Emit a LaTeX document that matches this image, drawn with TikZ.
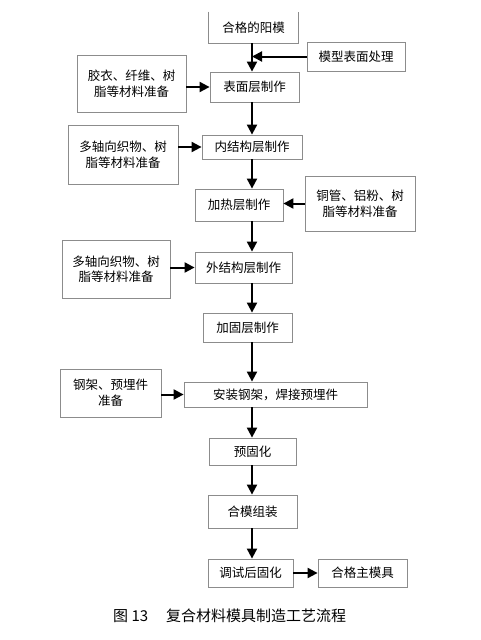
\documentclass[tikz,border=0pt]{standalone}
\usepackage{fontspec}
\setmainfont{Noto Sans CJK SC}
\usetikzlibrary{arrows.meta}
\begin{document}
\begin{tikzpicture}[x=1pt,y=-1pt,
  box/.style={draw=black!45,line width=0.8pt,rectangle,inner sep=0pt,align=center,font=\fontsize{12.5}{15.5}\selectfont},
  arr/.style={line width=2pt,-{Triangle[length=10pt,width=10pt]}}]
\useasboundingbox (0,0) rectangle (480,640);
\coordinate (spine) at (252,0);
\node[box,draw=none,minimum width=89pt,minimum height=31pt] (yang) at (253.5,27.5) {合格的阳模};
\draw[black!45,line width=0.8pt] (yang.north west)--(yang.south west)--(yang.south east)--(yang.north east);
\node[box,minimum width=98pt,minimum height=29pt] (mx) at (356,56.5) {模型表面处理};
\node[box,minimum width=109pt,minimum height=57pt] (jy) at (131.5,83.5) {胶衣、纤维、树\\脂等材料准备};
\node[box,minimum width=89pt,minimum height=30pt] (bm) at (254.5,87) {表面层制作};
\node[box,minimum width=110pt,minimum height=59pt] (dz1) at (123,154.5) {多轴向织物、树\\脂等材料准备};
\node[box,minimum width=100pt,minimum height=24pt] (nj) at (252,147) {内结构层制作};
\node[box,minimum width=88pt,minimum height=32pt] (jr) at (239,205) {加热层制作};
\node[box,minimum width=110pt,minimum height=55pt] (tg) at (360,203.5) {铜管、铝粉、树\\脂等材料准备};
\node[box,minimum width=108pt,minimum height=58pt] (dz2) at (116,269) {多轴向织物、树\\脂等材料准备};
\node[box,minimum width=97pt,minimum height=31pt] (wj) at (243.5,267.5) {外结构层制作};
\node[box,minimum width=89pt,minimum height=29pt] (jg) at (247.5,327.5) {加固层制作};
\node[box,minimum width=101pt,minimum height=48pt] (gj) at (110.5,393) {钢架、预埋件\\准备};
\node[box,minimum width=183pt,minimum height=25pt] (az) at (275.5,394.5) {安装钢架，焊接预埋件};
\node[box,minimum width=87pt,minimum height=27pt] (yg) at (252.5,451.5) {预固化};
\node[box,minimum width=89pt,minimum height=33pt] (hm) at (252.5,511.5) {合模组装};
\node[box,minimum width=85pt,minimum height=28pt] (ts) at (250.5,573) {调试后固化};
\node[box,minimum width=89pt,minimum height=28pt] (zm) at (362.5,573) {合格主模具};
\node[font=\fontsize{15}{18}\selectfont,anchor=west,inner sep=0pt] (cap) at (113,616) {图 13\hspace{1.2em}复合材料模具制造工艺流程};
\draw[arr] (yang.south -| spine) -- (bm.north -| spine);
\draw[arr] (mx.west) -- (mx.west -| spine);
\draw[arr] (bm.south -| spine) -- (nj.north -| spine);
\draw[arr] (nj.south -| spine) -- (jr.north -| spine);
\draw[arr] (jr.south -| spine) -- (wj.north -| spine);
\draw[arr] (wj.south -| spine) -- (jg.north -| spine);
\draw[arr] (jg.south -| spine) -- (az.north -| spine);
\draw[arr] (az.south -| spine) -- (yg.north -| spine);
\draw[arr] (yg.south -| spine) -- (hm.north -| spine);
\draw[arr] (hm.south -| spine) -- (ts.north -| spine);
\draw[arr] (jy.east |- bm.west) -- (bm.west);
\draw[arr] (dz1.east |- nj.west) -- (nj.west);
\draw[arr] (tg.west) -- (tg.west -| jr.east);
\draw[arr] (dz2.east |- wj.west) -- (wj.west);
\draw[arr] (gj.east |- az.west) -- (az.west);
\draw[arr] (ts.east) -- (zm.west);
\end{tikzpicture}
\end{document}
